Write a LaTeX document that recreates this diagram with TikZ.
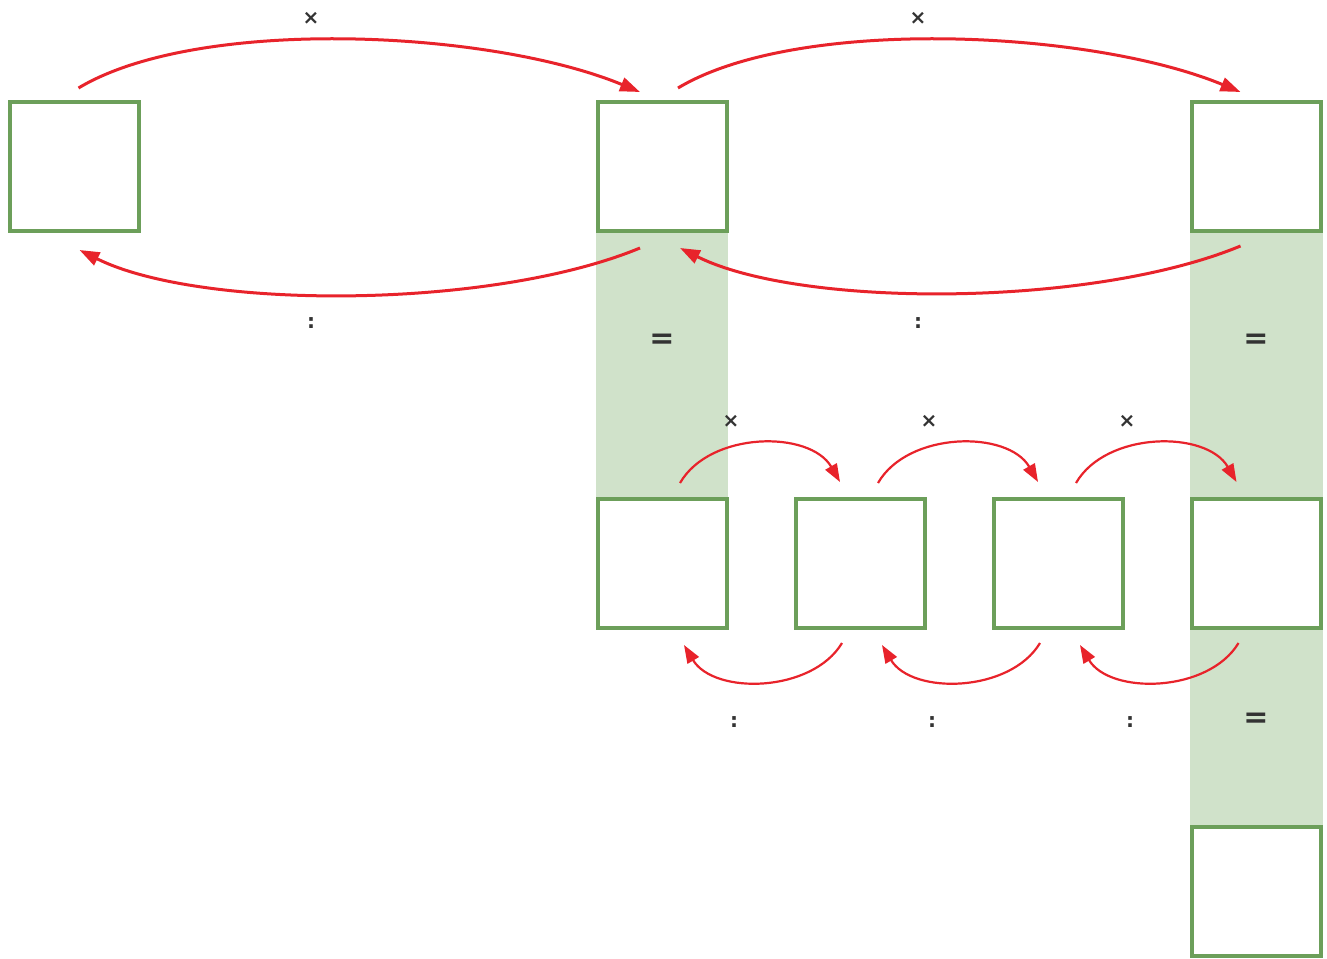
\documentclass[tikz,border=0pt]{standalone}
\usepackage{fontspec}
\setmainfont{DejaVu Sans}
\usetikzlibrary{calc,arrows.meta}

\definecolor{boxgreen}{HTML}{6C9F5A}
\definecolor{bandgreen}{HTML}{D0E2CA}
\definecolor{arcred}{HTML}{E8232B}
\definecolor{labelgray}{HTML}{333333}

\tikzset{
  cell/.style={draw=boxgreen,line width=4pt,fill=white,minimum size=129pt,inner sep=0pt},
  bigarc/.style={draw=arcred,line width=3pt,-{Triangle[length=20pt,width=14pt]}},
  smallarc/.style={draw=arcred,line width=2.2pt,-{Triangle[length=18pt,width=13pt]}},
  oplabel/.style={text=labelgray,font=\bfseries\fontsize{20}{20}\selectfont},
  eqlabel/.style={text=labelgray,font=\bfseries\fontsize{30}{30}\selectfont}
}

\begin{document}
\begin{tikzpicture}[x=1pt,y=-1pt]
  \useasboundingbox (0,0) rectangle (1327,958);

  % green bands behind the cells
  \fill[bandgreen] (596,233) rectangle (728,497);
  \fill[bandgreen] (1190,233) rectangle (1323,497);
  \fill[bandgreen] (1190,630) rectangle (1323,825);

  % top row
  \node[cell] (a) at (74.5,166.5) {};
  \node[cell] (b) at (662,166.5) {};
  \node[cell] (c) at (1256.5,166.5) {};

  % middle row
  \foreach [count=\n] \x in {662,860,1058,1256.5} {
    \node[cell] (m\n) at (\x,563.5) {};
  };

  % bottom cell
  \node[cell] (d) at (1256.5,891.5) {};

  % big arcs
  \draw[bigarc] ($(a.north)+(4,-12)$) .. controls +(120,-72) and +(-150,-62) .. ($(b.north)+(-22,-8)$);
  \draw[bigarc] ($(b.south)+(-22,15)$) .. controls +(-150,62) and +(120,60) .. ($(a.south)+(5,17)$);
  \draw[bigarc] ($(b.north)+(16,-12)$) .. controls +(120,-72) and +(-150,-62) .. ($(c.north)+(-16,-8)$);
  \draw[bigarc] ($(c.south)+(-16,13)$) .. controls +(-150,62) and +(120,60) .. ($(b.south)+(18,15)$);

  % small arcs
  \foreach \i/\j in {1/2,2/3,3/4} {
    \draw[smallarc] ($(m\i.north)+(18,-14)$) .. controls +(30,-52) and +(-30,-52) .. ($(m\j.north)+(-20,-15)$);
    \draw[smallarc] ($(m\j.south)+(-18,13)$) .. controls +(-30,50) and +(30,50) .. ($(m\i.south)+(22,15)$);
  };

  % labels
  \node[oplabel] (t1) at (311,18) {×};
  \node[oplabel] (t2) at (918,18) {×};
  \node[oplabel] (d1) at (311,323) {:};
  \node[oplabel] (d2) at (918,323) {:};
  \foreach [count=\n] \x in {731,929,1127} {
    \node[oplabel] (ts\n) at (\x,421) {×};
    \node[oplabel] (ds\n) at (\x+3,722) {:};
  };
  \node[eqlabel] (e1) at (662,341) {=};
  \node[eqlabel] (e2) at (1256,341) {=};
  \node[eqlabel] (e3) at (1256,720) {=};

\end{tikzpicture}
\end{document}
